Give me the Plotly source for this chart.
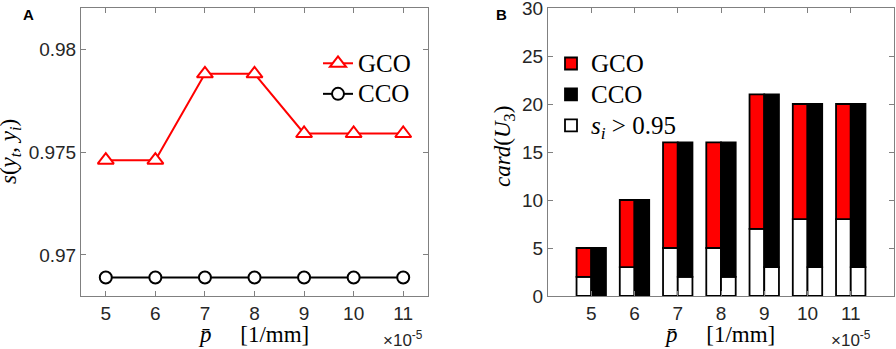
import plotly.graph_objects as go

# ---- data ----
p_values = [5, 6, 7, 8, 9, 10, 11]          # p-bar, x 1e-5 [1/mm]
gco_similarity = [0.9746, 0.9746, 0.9788, 0.9788, 0.9759, 0.9759, 0.9759]
cco_similarity = [0.9689, 0.9689, 0.9689, 0.9689, 0.9689, 0.9689, 0.9689]

gco_card = [5, 10, 16, 16, 21, 20, 20]
cco_card = [5, 10, 16, 16, 21, 20, 20]
gco_high = [2, 3, 5, 5, 7, 8, 8]     # s_i > 0.95
cco_high = [0, 0, 2, 2, 3, 3, 3]     # s_i > 0.95

W, H = 896, 349
AX = "#808080"
TXT = "#262626"
SANS = "Liberation Sans, Arial, sans-serif"
SERIF = "Liberation Serif, Times New Roman, serif"


def px(x):
    return x / W


def py(y):
    return 1 - y / H


def big(t):
    return '<span style="font-size:25px">' + t + "</span>"


fig = go.Figure()

# ---- panel A ----
fig.add_trace(go.Scatter(
    x=p_values, y=gco_similarity, mode="lines+markers", name=big("GCO"),
    line=dict(color="#ff0000", width=2),
    marker=dict(symbol="triangle-up", size=14, color="white",
                line=dict(color="#ff0000", width=2)),
    xaxis="x", yaxis="y", legend="legend"))
fig.add_trace(go.Scatter(
    x=p_values, y=cco_similarity, mode="lines+markers", name=big("CCO"),
    line=dict(color="black", width=2),
    marker=dict(symbol="circle", size=12, color="white",
                line=dict(color="black", width=2)),
    xaxis="x", yaxis="y", legend="legend"))

# ---- panel B ----
gco_rest = [t - h for t, h in zip(gco_card, gco_high)]
cco_rest = [t - h for t, h in zip(cco_card, cco_high)]
bar_line = dict(color="black", width=1.8)

fig.add_trace(go.Bar(x=p_values, y=gco_high, base=[0] * len(p_values),
                     offsetgroup="g", name=big("<i>s<sub>i</sub></i> > 0.95"),
                     marker=dict(color="white", line=bar_line),
                     xaxis="x2", yaxis="y2", legend="legend2", legendrank=3))
fig.add_trace(go.Bar(x=p_values, y=gco_rest, base=gco_high,
                     offsetgroup="g", name=big("GCO"),
                     marker=dict(color="#ff0000", line=bar_line),
                     xaxis="x2", yaxis="y2", legend="legend2", legendrank=1))
fig.add_trace(go.Bar(x=p_values, y=cco_high, base=[0] * len(p_values),
                     offsetgroup="c", name="CCO high", showlegend=False,
                     marker=dict(color="white", line=bar_line),
                     xaxis="x2", yaxis="y2"))
fig.add_trace(go.Bar(x=p_values, y=cco_rest, base=cco_high,
                     offsetgroup="c", name=big("CCO"),
                     marker=dict(color="black", line=bar_line),
                     xaxis="x2", yaxis="y2", legend="legend2", legendrank=2))

axis_common = dict(showline=True, linecolor=AX, linewidth=1, mirror="ticks",
                   ticks="inside", ticklen=5, tickcolor=AX, tickwidth=1,
                   showgrid=False, zeroline=False, ticklabeloverflow="allow",
                   automargin=False,
                   tickfont=dict(family=SANS, size=19, color=TXT))

ytop, ybot = 8, 296
fig.update_layout(
    width=W, height=H, margin=dict(l=0, r=0, t=0, b=0, autoexpand=False),
    paper_bgcolor="white", plot_bgcolor="white",
    barmode="group", bargap=0.32, bargroupgap=0,
    xaxis=dict(domain=[px(81), px(428)], range=[4.5, 11.5],
               tickvals=p_values, anchor="y", **axis_common),
    yaxis=dict(domain=[py(ybot), py(ytop)], range=[0.968, 0.982],
               tickvals=[0.97, 0.975, 0.98], ticktext=["0.97", "0.975", "0.98"],
               anchor="x", **axis_common),
    xaxis2=dict(domain=[px(548), px(894)], range=[4, 12],
                tickvals=p_values, anchor="y2", **axis_common),
    yaxis2=dict(domain=[py(ybot), py(ytop)], range=[0, 30],
                tickvals=[0, 5, 10, 15, 20, 25, 30], anchor="x2", **axis_common),
    legend=dict(x=px(318), y=py(43), xanchor="left", yanchor="top",
                bgcolor="rgba(0,0,0,0)", borderwidth=0,
                font=dict(family=SERIF, size=21.2, color="black"),
                tracegroupgap=0),
    legend2=dict(x=px(551), y=py(43), xanchor="left", yanchor="top",
                 bgcolor="rgba(0,0,0,0)", borderwidth=0, traceorder="normal",
                 font=dict(family=SERIF, size=21.5, color="black"),
                 tracegroupgap=0),
    showlegend=True,
)

ann = []
for txt, x, y in (("<b>A</b>", 28, 14), ("<b>B</b>", 501, 14)):
    ann.append(dict(text=txt, x=px(x), y=py(y), xref="paper", yref="paper",
                    xanchor="center", yanchor="middle", showarrow=False,
                    font=dict(family=SANS, size=15, color="black")))

serif_ann = dict(xref="paper", yref="paper", showarrow=False,
                 xanchor="center", yanchor="middle",
                 font=dict(family=SERIF, size=23, color="black"))
NB = "\u00a0"
xlabel = "<i>p\u0304</i>" + NB * 5 + "[1/mm]"
ann.append(dict(text=xlabel, x=px(253), y=py(334), **serif_ann))
ann.append(dict(text=xlabel, x=px(719), y=py(334), **serif_ann))
ann.append(dict(text="<i>s</i>(<i>y<sub>t</sub></i>, <i>y<sub>i</sub></i>)",
                x=px(10), y=py(152), textangle=-90, **serif_ann))
ann.append(dict(text="<i>card</i>(<i>U</i><sub>3</sub>)",
                x=px(504), y=py(147), textangle=-90, **serif_ann))
for cx in (403, 851):
    ann.append(dict(text="\u00d710<sup>-5</sup>", x=px(cx), y=py(339),
                    xref="paper", yref="paper", showarrow=False,
                    xanchor="center", yanchor="middle",
                    font=dict(family=SANS, size=17, color=TXT)))
fig.update_layout(annotations=ann)

fig.write_html("out.html",
               config={"displayModeBar": False},
               post_script="document.body.style.margin='0px';"
                           "document.body.style.overflow='hidden';")
